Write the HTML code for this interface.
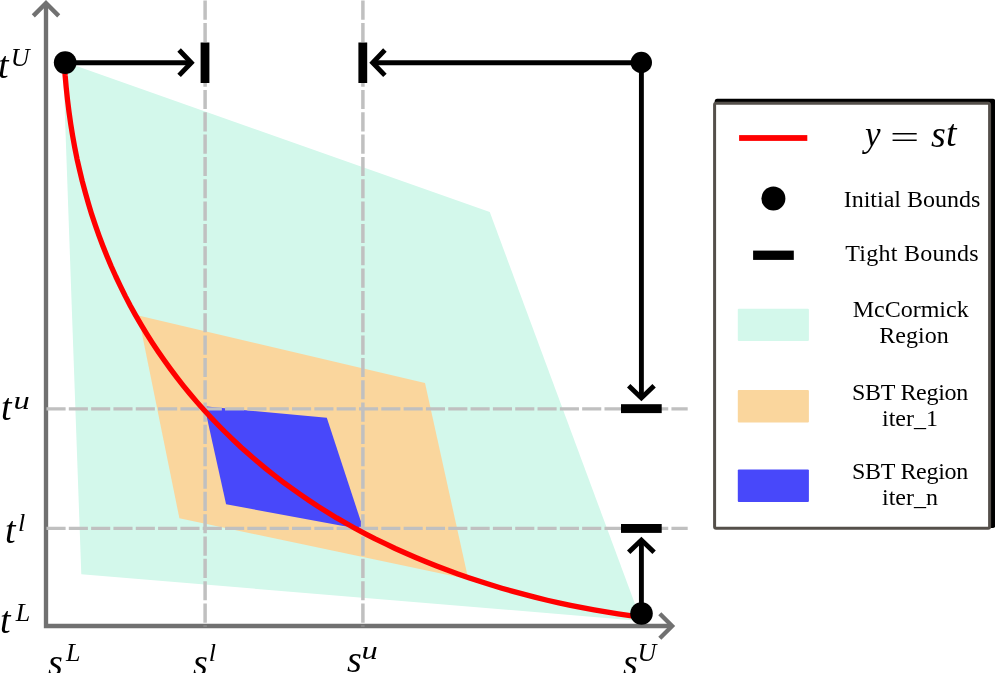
<!DOCTYPE html>
<html lang="en">
<head>
<meta charset="utf-8">
<title>McCormick / SBT region diagram</title>
<style>
html,body{margin:0;padding:0;background:#ffffff;}
body{width:995px;height:673px;position:relative;overflow:hidden;font-family:"Liberation Serif",serif;color:#000;}
svg{position:absolute;left:0;top:0;display:block;}
.m,.lg,.eq{will-change:transform;}
.m{position:absolute;white-space:nowrap;font-family:"Liberation Serif",serif;font-style:italic;font-size:38px;line-height:38px;height:38px;}
.m sup{font-size:26px;line-height:0;vertical-align:baseline;position:relative;}
.lg{position:absolute;white-space:nowrap;font-family:"Liberation Serif",serif;font-size:24px;line-height:26px;text-align:center;width:200px;left:811.5px;}
.eq{position:absolute;white-space:nowrap;font-family:"Liberation Serif",serif;font-style:italic;font-size:38px;line-height:38px;}
</style>
</head>
<body>
<svg width="995" height="673" viewBox="0 0 995 673">
  <!-- regions -->
  <polygon points="63,61.3 489.75,212 641.3,621 81.3,574.25" fill="#d3f8eb"/>
  <polygon points="138.3,315.4 425,383.1 468.3,579.3 179.4,518.3" fill="#fad69d"/>
  <polygon points="204.4,406.3 326.8,417.8 360.9,521.5 360.9,529.3 226.1,504.3" fill="#4848fa"/>
  <!-- axes -->
  <g stroke="#717171" stroke-width="4.35" fill="none" stroke-linejoin="miter">
    <polyline points="46,3 46,626 672,626"/>
    <polyline points="33.3,15.9 46,3.2 58.7,15.9"/>
    <polyline points="659.8,613.7 672.1,626 659.8,638.3"/>
  </g>
  <!-- dashed guide lines -->
  <g stroke="#c0c0c0" stroke-dasharray="19.12 3.2" fill="none">
    <line x1="205.1" y1="0.6" x2="205.1" y2="626.3" stroke-width="3.5" stroke-dasharray="19.13 3.2"/>
    <line x1="362.9" y1="0.6" x2="362.9" y2="626.3" stroke-width="3.5" stroke-dasharray="19.13 3.2"/>
    <line x1="46.48" y1="408.8" x2="687.7" y2="408.8" stroke-width="3.3"/>
    <line x1="46.48" y1="528.45" x2="687.7" y2="528.45" stroke-width="3.3"/>
  </g>
  <!-- curve -->
  <path d="M64.3,62.7 L65.1,75.2 L66.2,87.6 L67.5,99.8 L69.0,111.9 L70.7,123.8 L72.6,135.6 L74.7,147.3 L77.0,158.8 L79.6,170.2 L82.3,181.4 L85.3,192.5 L88.4,203.5 L91.7,214.4 L95.3,225.1 L99.0,235.6 L102.9,246.0 L107.0,256.3 L111.3,266.5 L115.8,276.5 L120.5,286.3 L125.3,296.1 L130.3,305.7 L135.5,315.1 L140.9,324.4 L146.5,333.6 L152.2,342.6 L158.1,351.5 L164.2,360.3 L170.4,368.9 L176.8,377.4 L183.4,385.8 L190.1,394.0 L197.0,402.1 L204.0,410.0 L211.2,417.8 L218.6,425.5 L226.1,433.0 L233.7,440.4 L241.5,447.7 L249.5,454.8 L257.6,461.8 L265.8,468.6 L274.2,475.3 L282.7,481.8 L291.4,488.2 L300.2,494.4 L309.1,500.5 L318.2,506.5 L327.4,512.2 L336.7,517.9 L346.1,523.3 L355.7,528.7 L365.4,533.8 L375.2,538.9 L385.2,543.7 L395.2,548.5 L405.4,553.0 L415.7,557.5 L426.0,561.8 L436.6,566.0 L447.2,570.0 L457.9,573.9 L468.7,577.7 L479.6,581.3 L490.6,584.8 L501.8,588.2 L513.0,591.4 L524.3,594.4 L535.7,597.4 L547.2,600.2 L558.8,602.8 L570.5,605.3 L582.2,607.7 L594.1,609.9 L606.0,611.9 L618.0,613.9 L630.1,615.7 L639.9,617.0" fill="none" stroke="#ff0000" stroke-width="5.3" stroke-linejoin="round"/>
  <!-- arrows -->
  <g stroke="#000" stroke-width="4.9" fill="none" stroke-linejoin="miter">
    <line x1="65" y1="62.7" x2="191.3" y2="62.7"/>
    <polyline points="179.1,50 191.3,62.7 179.1,75.4"/>
    <line x1="641.5" y1="62.7" x2="372.7" y2="62.7"/>
    <polyline points="384.9,50 372.7,62.7 384.9,75.4"/>
    <line x1="641.4" y1="62.6" x2="641.4" y2="397.9"/>
    <polyline points="628.7,385.7 641.4,397.9 654.1,385.7"/>
    <line x1="641.4" y1="613.5" x2="641.4" y2="540.1"/>
    <polyline points="628.7,552.3 641.4,540.1 654.1,552.3"/>
  </g>
  <!-- tight-bound bars -->
  <g fill="#000">
    <rect x="200.6" y="42.5" width="8.8" height="40.5"/>
    <rect x="358.4" y="42.5" width="8.8" height="40.5"/>
    <rect x="621" y="404.2" width="40.7" height="8.9"/>
    <rect x="621" y="524" width="40.7" height="8.9"/>
  </g>
  <!-- initial-bound dots -->
  <circle cx="65.2" cy="62.6" r="11.35"/>
  <circle cx="641.3" cy="62.5" r="10.7"/>
  <circle cx="641.5" cy="613.5" r="11.3"/>
  <!-- legend -->
  <rect x="714.7" y="98.7" width="280.5" height="429.3" rx="2.5" fill="#000"/>
  <rect x="714.6" y="103.2" width="275" height="425.1" rx="1.5" fill="#fff" stroke="#544f4a" stroke-width="3"/>
  <rect x="739.1" y="135.1" width="68.2" height="5.8" fill="#ff0000"/>
  <circle cx="773.4" cy="198.5" r="12"/>
  <rect x="753.1" y="250.6" width="40.7" height="9.3" fill="#000"/>
  <rect x="737.8" y="308.7" width="71.1" height="32.2" rx="1" fill="#d3f8eb"/>
  <rect x="737.8" y="389.9" width="71.1" height="32.5" rx="1" fill="#fad69d"/>
  <rect x="737.8" y="469.4" width="71.1" height="32.5" rx="1" fill="#4848fa"/>
</svg>

<!-- axis labels -->
<div class="m" id="tU" style="left:-2.3px;top:46.1px;">t<sup style="margin-left:2.1px;top:-12.35px;">U</sup></div>
<div class="m" id="tu" style="left:0.75px;top:388.15px;">t<sup style="margin-left:3.35px;top:-11.2px;display:inline-block;transform:scaleX(1.25);">u</sup></div>
<div class="m" id="tl" style="left:4.95px;top:511.1px;">t<sup style="margin-left:2.4px;top:-12.2px;">l</sup></div>
<div class="m" id="tL" style="left:-0.15px;top:600.75px;">t<sup style="margin-left:5.2px;top:-12.25px;">L</sup></div>
<div class="m" id="sL" style="left:48.35px;top:643px;">s<sup style="margin-left:3.3px;top:-14.3px;">L</sup></div>
<div class="m" id="sl" style="left:193.2px;top:643px;">s<sup style="margin-left:0.95px;top:-14.2px;">l</sup></div>
<div class="m" id="su" style="left:347.1px;top:639.6px;">s<sup style="margin-left:1.7px;top:-13.1px;display:inline-block;transform:scaleX(1.25);">u</sup></div>
<div class="m" id="sU" style="left:623.4px;top:643px;">s<sup style="margin-left:-0.4px;top:-14px;">U</sup></div>

<!-- legend labels -->
<div class="eq" id="eqy" style="left:865.3px;top:116px;font-size:35px;">y</div>
<div class="eq" id="eqe" style="left:890px;top:117.8px;font-style:normal;font-size:32px;transform:scaleX(1.62);transform-origin:0 0;">=</div>
<div class="eq" id="eqs" style="left:931px;top:115px;">s</div>
<div class="eq" id="eqt" style="left:945.7px;top:114px;">t</div>
<div class="lg" id="l1" style="top:186px;">Initial Bounds</div>
<div class="lg" id="l2" style="top:240px;letter-spacing:0.25px;">Tight Bounds</div>
<div class="lg" id="l3" style="top:296px;"><span style="position:relative;left:-1.3px;">McCormick</span><br><span style="position:relative;left:2px;">Region</span></div>
<div class="lg" id="l4" style="top:378.8px;left:810px;"><span style="letter-spacing:-0.3px;">SBT Region</span><br>iter_1</div>
<div class="lg" id="l5" style="top:458.4px;left:810px;"><span style="letter-spacing:-0.3px;">SBT Region</span><br>iter_n</div>
</body>
</html>
